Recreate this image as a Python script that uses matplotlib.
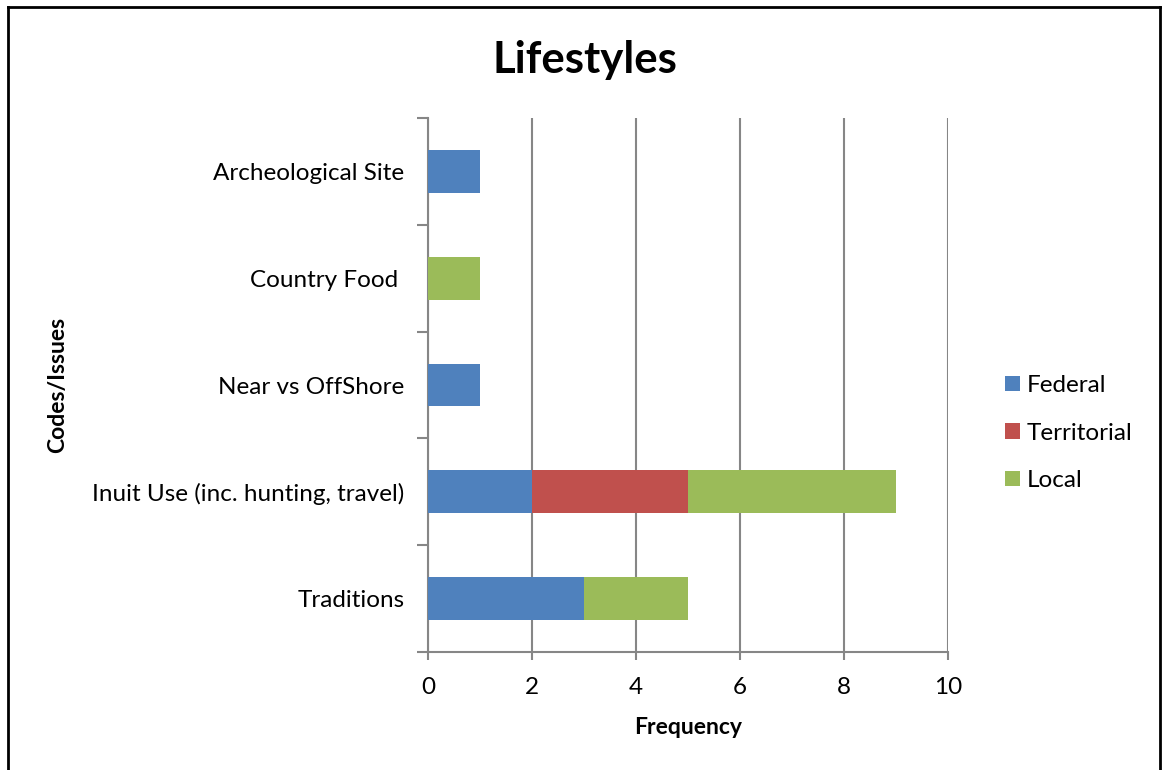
import matplotlib.pyplot as plt
import numpy as np
from matplotlib.lines import Line2D

plt.rcParams['font.family'] = ['Lato', 'DejaVu Sans']

# categories listed bottom to top
codes = ['Traditions', 'Inuit Use (inc. hunting, travel)', 'Near vs OffShore',
         'Country Food ', 'Archeological Site']
federal = [3, 2, 1, 0, 1]
territorial = [0, 3, 0, 0, 0]
local = [2, 4, 0, 1, 0]

series = [('Federal', federal, '#4F81BD'),
          ('Territorial', territorial, '#C0504D'),
          ('Local', local, '#9BBB59')]

fig = plt.figure(figsize=(11.63, 7.70), dpi=100)
ax = fig.add_axes([0.368, 0.1532, 0.4471, 0.6935])

y = np.arange(len(codes))
left = np.zeros(len(codes))
for name, vals, col in series:
    vals = np.array(vals, dtype=float)
    ax.barh(y, vals, left=left, height=0.4, color=col, label=name, zorder=3)
    left += vals

grey = '#868686'
ax.set_xlim(0, 10)
ax.set_ylim(-0.5, len(codes) - 0.5)
ax.set_xticks(np.arange(0, 11, 2))
ax.grid(axis='x', color=grey, linewidth=1.5, zorder=0)
ax.tick_params(axis='x', length=6, width=1.5, color=grey, labelsize=17.5, pad=12)

ax.set_yticks(y)
ax.set_yticklabels(codes)
ax.set_yticks(np.arange(-0.5, len(codes)), minor=True)
ax.tick_params(axis='y', which='major', length=0, labelsize=17.5, pad=17)
ax.tick_params(axis='y', which='minor', length=8, width=1.5, color=grey)

for side in ['top', 'right']:
    ax.spines[side].set_visible(False)
for side in ['left', 'bottom']:
    ax.spines[side].set_color(grey)
    ax.spines[side].set_linewidth(1.5)

ax.set_xlabel('Frequency', fontsize=16.5, fontweight='bold', labelpad=14)
ax.set_ylabel('Codes/Issues', fontsize=16.5, fontweight='bold')
ax.yaxis.set_label_coords(-0.692, 0.5)

fig.text(0.503, 0.922, 'Lifestyles', fontsize=31.5, fontweight='bold',
         ha='center', va='center')

ax.legend(loc='center left', bbox_to_anchor=(1.068, 0.41), frameon=False,
          fontsize=17.5, handlelength=0.6, handleheight=0.6, handletextpad=0.3,
          labelspacing=1.08)

# outer border
border = dict(color='black', linewidth=2, transform=fig.transFigure)
fig.add_artist(Line2D([8 / 1163, 8 / 1163], [0, 1 - 7 / 770], **border))
fig.add_artist(Line2D([8 / 1163, 1160 / 1163], [1 - 7 / 770, 1 - 7 / 770], **border))
fig.add_artist(Line2D([1160 / 1163, 1160 / 1163], [0, 1 - 7 / 770], **border))

fig.savefig('out.png', dpi=100)
